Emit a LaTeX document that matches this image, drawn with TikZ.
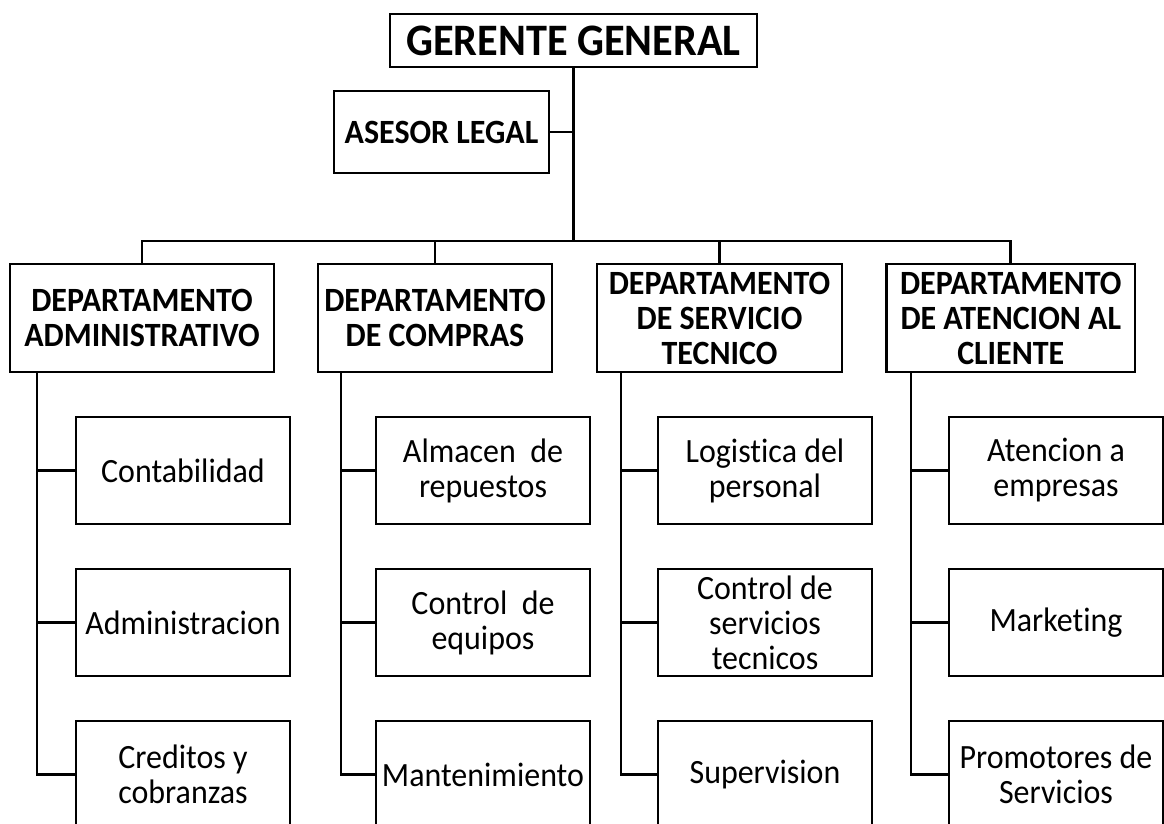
\documentclass[tikz,border=0pt]{standalone}
\usepackage{fontspec}
\setmainfont{Carlito}[FakeStretch=0.94,Ligatures=NoCommon]
\begin{document}
\begin{tikzpicture}[x=1pt,y=-1pt,line width=2.8pt,
  box/.style={draw,rectangle,inner sep=0pt,align=center,line width=2.8pt},
  topbox/.style={box,font=\fontsize{45}{50}\selectfont\bfseries},
  boldbox/.style={box,font=\fontsize{34}{35}\selectfont\bfseries},
  deptbox/.style={boldbox,minimum height=108pt},
  childbox/.style={box,minimum width=214pt,minimum height=107pt,font=\fontsize{34}{35}\selectfont},
  link/.style={draw,line width=2.8pt}]
\clip (0,0) rectangle (1164,824);
\useasboundingbox (0,0) rectangle (1164,824);

\node[topbox,minimum width=367pt,minimum height=53pt] (gg) at (573.5,40.5) {GERENTE GENERAL};
\node[boldbox,minimum width=215pt,minimum height=82pt] (al) at (441.5,132) {ASESOR LEGAL};

\node[deptbox,minimum width=264pt] (d1) at (142,318) {DEPARTAMENTO\\ADMINISTRATIVO};
\node[deptbox,minimum width=234pt] (d2) at (435,318) {DEPARTAMENTO\\DE COMPRAS};
\node[deptbox,minimum width=245pt] (d3) at (719.5,318) {DEPARTAMENTO\\DE SERVICIO\\TECNICO};
\node[deptbox,minimum width=248.5pt] (d4) at (1010.75,318) {DEPARTAMENTO\\DE ATENCION AL\\CLIENTE};

\node[childbox] (c11) at (183,470.5) {Contabilidad};
\node[childbox] (c12) at (183,622.5) {Administracion};
\node[childbox] (c13) at (183,774.5) {Creditos y\\cobranzas};

\node[childbox] (c21) at (483,470.5) {Almacen\ \ de\\repuestos};
\node[childbox] (c22) at (483,622.5) {Control\ \ de\\equipos};
\node[childbox] (c23) at (483,774.5) {Mantenimiento};

\node[childbox] (c31) at (765,470.5) {Logistica del\\personal};
\node[childbox] (c32) at (765,622.5) {Control de\\servicios\\tecnicos};
\node[childbox] (c33) at (765,774.5) {Supervision};

\node[childbox] (c41) at (1056,470.5) {Atencion a\\empresas};
\node[childbox] (c42) at (1056,622.5) {Marketing};
\node[childbox] (c43) at (1056,774.5) {Promotores de\\Servicios};

% top connectors
\coordinate (bus) at (573.5,241);
\draw[link] (gg.south) -- (gg.south |- bus);
\draw[link] (al.east) -- (al.east -| gg.south);
\draw[link] (d1.north) |- (d4.north |- bus) -- (d4.north);
\draw[link] (d2.north) -- (d2.north |- bus);
\draw[link] (d3.north) -- (d3.north |- bus);

% spines
\coordinate (s1) at (37,372);
\coordinate (s2) at (341,372);
\coordinate (s3) at (621,372);
\coordinate (s4) at (911,372);
\foreach \i in {1,2,3,4}{
  \draw[link] (s\i) |- (c\i3.west);
  \draw[link] (c\i1.west) -- (c\i1.west -| s\i);
  \draw[link] (c\i2.west) -- (c\i2.west -| s\i);
}
\end{tikzpicture}
\end{document}
